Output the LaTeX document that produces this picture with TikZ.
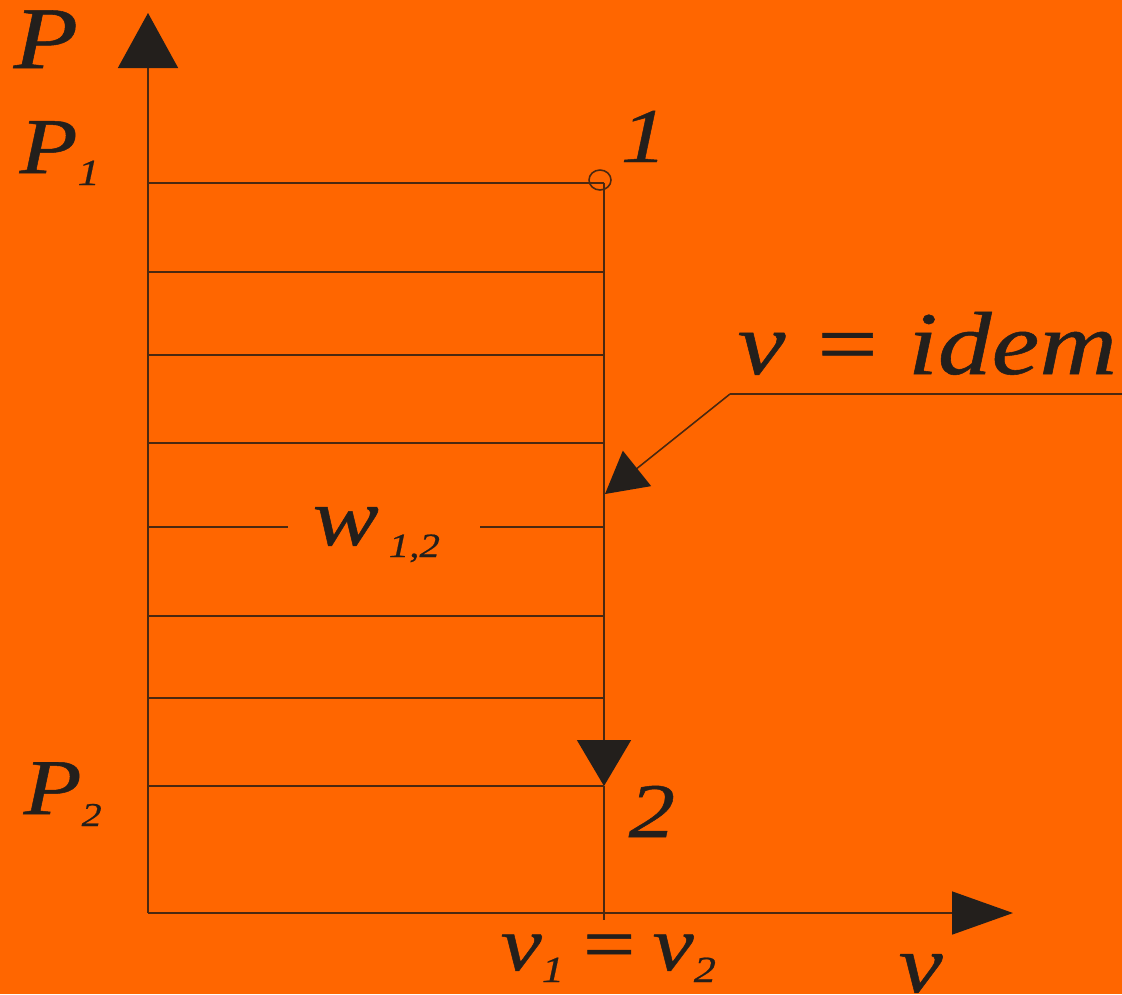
\documentclass[tikz,border=0pt]{standalone}
\usepackage{fontspec}
\setmainfont[FakeStretch=1.2,FakeBold=0.6]{Liberation Serif}
\usetikzlibrary{arrows.meta}
\definecolor{orangebg}{HTML}{FF6600}
\definecolor{inkdark}{HTML}{231F1C}
\definecolor{linebrown}{HTML}{4B2810}
\newcommand{\lowsub}[2][10]{\raisebox{-1.2mm}{\fontsize{#1pt}{#1pt}\selectfont #2}}
\newcommand{\fsz}[1]{\fontsize{#1pt}{#1pt}\selectfont}

\begin{document}
\begin{tikzpicture}[x=0.1mm,y=-0.1mm,
  thinline/.style={draw=linebrown,line width=0.45pt},
  lbl/.style={inner sep=0pt,text=inkdark,anchor=base west,font=\itshape}]
  \fill[orangebg] (0,0) rectangle (1122,994);
  \useasboundingbox (0,0) rectangle (1122,994);
  % axes
  \coordinate (O) at (148,913);
  \coordinate (ptop) at (148,13);
  \coordinate (vtip) at (1013,913);
  \draw[thinline,-{Triangle[length=5.5mm,width=6mm,color=inkdark]}] (O) -- (ptop);
  \draw[thinline,-{Triangle[length=6.1mm,width=4.3mm,color=inkdark]}] (O) -- (vtip);
  % states 1 and 2
  \coordinate (pt1) at (604,183);
  \coordinate (pt2) at (604,786);
  \coordinate (vfoot) at (604,920);
  \draw[thinline] (600,180) ellipse (1.1mm and 1mm);
  \draw[thinline,-{Triangle[length=4.6mm,width=5.4mm,color=inkdark]}] (pt1) -- (pt2);
  \draw[thinline] (pt2) -- (vfoot);
  % hatching of the work area
  \draw[thinline] (148,183) -- (pt1);
  \draw[thinline] (148,786) -- (pt2);
  \foreach \yy in {272,355,443,616,698}
    \draw[thinline] (148,\yy) -- (604,\yy);
  \draw[thinline] (148,527) -- (288,527) (480,527) -- (604,527);
  % leader for v = idem
  \coordinate (lead) at (730,394);
  \coordinate (hit) at (605,494);
  \draw[thinline] (1122,394) -- (lead);
  \draw[thinline,-{Triangle[length=4.1mm,width=4.5mm,color=inkdark]}] (lead) -- (hit);
  % labels
  \node[lbl,font=\itshape\fsz{25}] (plbl) at (13,68) {P};
  \node[lbl,font=\itshape\fsz{22.5}] (p1lbl) at (19,173) {P\lowsub[10.5]{1}};
  \node[lbl,font=\itshape\fsz{22.5}] (p2lbl) at (23,814) {P\lowsub[9.5]{2}};
  \node[lbl,font=\itshape\fsz{22}] (st1) at (620,162) {1};
  \node[lbl,font=\itshape\fsz{22}] (st2) at (628,837) {2};
  \node[lbl,font=\itshape\fsz{25.5}] (idem) at (737,374) {v\hspace{2.5mm}=\hspace{2.5mm}idem};
  \node[lbl,font=\itshape\fsz{23.5}] (work) at (312,545) {w\hspace{1mm}\lowsub[9.7]{1,2}};
  \node[lbl,font=\itshape\fsz{22}] (vv) at (500,970) {v\lowsub[10.5]{1}\hspace{1.3mm}=\hspace{1.3mm}v\lowsub[10.5]{2}};
  \node[lbl,font=\itshape\fsz{23.5}] (vlbl) at (898,992) {v};
\end{tikzpicture}
\end{document}
